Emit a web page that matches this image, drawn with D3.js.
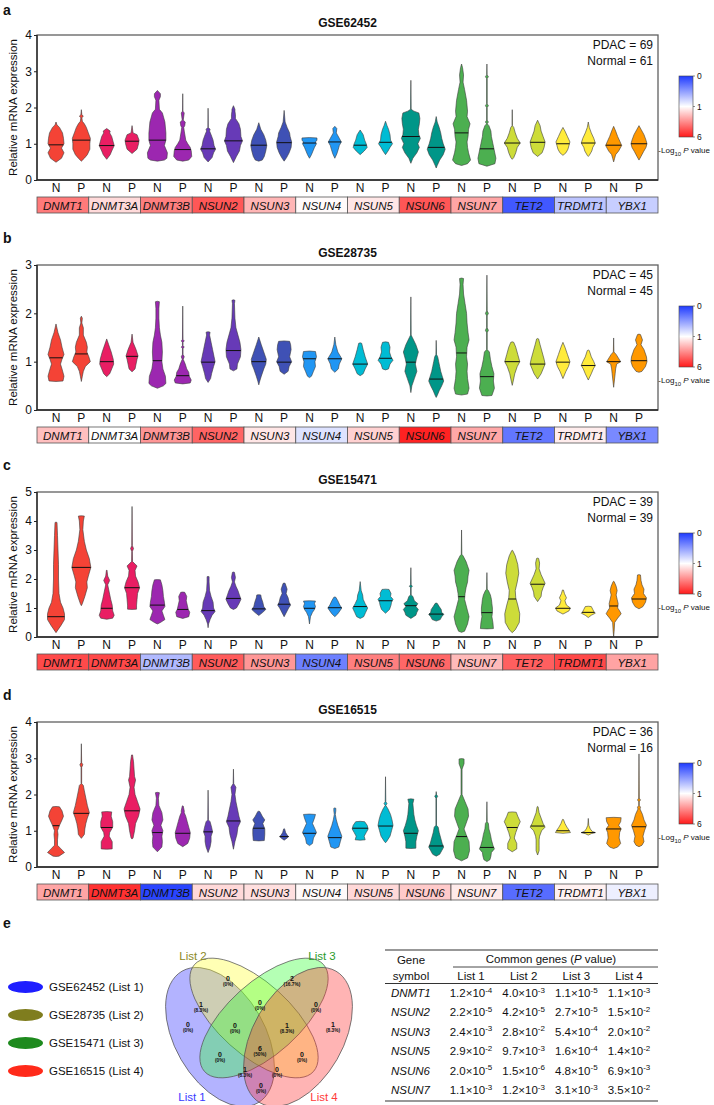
<!DOCTYPE html>
<html><head><meta charset="utf-8">
<script src="https://cdnjs.cloudflare.com/ajax/libs/d3/7.8.5/d3.min.js"></script>
<style>body{margin:0;background:#fff}svg{display:block}text{font-family:"Liberation Sans",Arial,Helvetica,sans-serif;fill:#111}</style>
</head><body><svg id="c" width="714" height="1105"></svg>
<script>
// ---------------- DATA ----------------
const genes = ["DNMT1","DNMT3A","DNMT3B","NSUN2","NSUN3","NSUN4","NSUN5","NSUN6","NSUN7","TET2","TRDMT1","YBX1"];
const groups = ["N","P"];
const geneColors = ["#f44336","#e91e63","#9c27b0","#673ab7","#3f51b5","#2196f3","#00bcd4","#009688","#4caf50","#cddc39","#ffeb3b","#ff9800"];
const datasets = ["GSE62452","GSE28735","GSE15471","GSE16515"];
const panelLetters = ["a","b","c","d"];
const pdacN = [69,45,39,36];
const normalN = [61,45,39,16];
const yMaxes = [4,3,5,4];
const colorTicks = [0,1,6];
// -log10 P per gene (box colours)
const logPa = [3.9,1.8,3.8,4.66,2.62,1.1,1.54,4.7,2.96,0.15,0.7,0.75];
const logPb = [2.4,1.0,3.3,4.38,1.55,0.85,2.01,5.82,2.92,0.3,1.4,0.4];
const logPc = [4.96,5.0,0.65,4.57,3.27,0.35,3.8,4.32,2.51,4.5,5.0,3.0];
const logPd = [2.96,5.5,0.05,1.82,1.7,1.1,1.85,2.16,1.46,0.25,1.3,0.92];
// medians (N,P per gene)
const medA = [0.97,1.1,0.95,1.07,1.1,0.84,0.86,1.08,0.96,1.03,1.02,1.05,0.96,1.04,1.2,0.9,1.3,0.86,1.02,1.04,1.0,1.02,0.96,1.0];
const medB = [1.08,1.16,1.0,1.11,1.02,0.71,0.99,1.23,1.0,0.99,1.06,1.06,0.95,1.07,0.99,0.64,1.18,0.69,1.0,0.95,0.99,0.92,1.0,1.02];
const medC = [0.7,2.4,0.99,1.7,1.1,0.95,0.91,1.33,0.97,1.13,0.99,1.01,1.05,1.25,1.08,0.79,1.39,0.84,1.31,1.82,0.99,0.85,1.07,1.31];
const medD = [1.14,1.48,1.09,1.55,0.95,0.93,0.97,1.27,1.07,0.84,0.93,0.81,1.07,1.13,0.93,0.58,0.84,0.54,1.09,1.13,1.0,0.95,1.05,1.11];
// density profiles: [value, relative density]
const shapesA = [
[[0.49,0],[0.6,0.55],[0.75,0.8],[0.88,0.55],[1.0,0.8],[1.15,0.75],[1.3,0.65],[1.45,0.35],[1.52,0.1],[1.6,0]],
[[0.52,0],[0.6,0.3],[0.7,0.6],[0.85,0.85],[1.0,0.85],[1.15,0.9],[1.3,0.7],[1.45,0.5],[1.55,0.3],[1.62,0.1],[1.72,0.05],[1.76,0.2],[1.8,0.05],[1.94,0]],
[[0.57,0],[0.7,0.35],[0.8,0.5],[0.95,0.75],[1.05,0.65],[1.2,0.5],[1.3,0.3],[1.35,0.35],[1.42,0]],
[[0.73,0],[0.85,0.5],[1.0,0.65],[1.1,0.7],[1.25,0.5],[1.3,0.1],[1.5,0]],
[[0.52,0],[0.55,0.7],[0.6,0.95],[0.75,1.0],[0.95,0.7],[1.1,0.85],[1.3,0.85],[1.6,0.75],[1.85,0.5],[1.95,0.2],[2.2,0.15],[2.3,0.3],[2.38,0.3],[2.47,0]],
[[0.52,0],[0.55,0.6],[0.65,0.9],[0.8,0.85],[0.9,0.75],[1.0,0.5],[1.1,0.3],[1.35,0.15],[1.45,0.1],[1.5,0.2],[1.6,0.25],[1.65,0.05],[1.85,0.15],[1.9,0.02],[2.38,0]],
[[0.5,0],[0.62,0.4],[0.75,0.55],[0.85,0.75],[0.95,0.6],[1.1,0.5],[1.25,0.3],[1.35,0.15],[1.4,0.2],[1.45,0.02],[1.98,0]],
[[0.48,0],[0.65,0.3],[0.8,0.6],[0.95,0.7],[1.08,0.9],[1.2,0.75],[1.4,0.7],[1.55,0.55],[1.7,0.2],[1.8,0.2],[1.9,0.15],[1.95,0.15],[2.05,0]],
[[0.52,0],[0.55,0.35],[0.65,0.55],[0.8,0.7],[0.95,0.8],[1.1,0.7],[1.25,0.5],[1.4,0.2],[1.58,0]],
[[0.52,0],[0.62,0.25],[0.75,0.5],[0.9,0.7],[1.05,0.75],[1.2,0.6],[1.3,0.55],[1.45,0.3],[1.6,0.1],[1.92,0]],
[[0.6,0],[0.7,0.2],[0.8,0.35],[0.9,0.5],[1.0,0.7],[1.05,0.6],[1.1,0.75],[1.16,0.75],[1.17,0]],
[[0.6,0],[0.72,0.2],[0.85,0.35],[0.95,0.45],[1.05,0.65],[1.15,0.45],[1.3,0.15],[1.42,0.2],[1.48,0]],
[[0.7,0],[0.8,0.4],[0.9,0.7],[1.0,0.6],[1.1,0.45],[1.25,0.3],[1.38,0]],
[[0.7,0],[0.8,0.25],[0.9,0.45],[1.0,0.7],[1.1,0.5],[1.25,0.45],[1.4,0.3],[1.5,0.15],[1.62,0]],
[[0.46,0],[0.6,0.2],[0.75,0.6],[0.9,0.85],[1.0,0.7],[1.15,0.95],[1.25,0.8],[1.4,0.75],[1.55,0.85],[1.7,0.9],[1.85,0.8],[1.9,0.3],[1.95,0.03],[2.75,0]],
[[0.33,0],[0.4,0.1],[0.55,0.35],[0.7,0.7],[0.85,0.9],[1.0,0.7],[1.15,0.55],[1.3,0.45],[1.45,0.3],[1.6,0.1],[1.75,0]],
[[0.4,0],[0.45,0.6],[0.55,0.9],[0.75,0.7],[0.9,0.6],[1.05,0.55],[1.2,0.65],[1.4,0.7],[1.55,0.85],[1.75,0.55],[1.9,0.6],[2.2,0.5],[2.5,0.3],[2.7,0.15],[2.9,0.2],[3.1,0.1],[3.2,0]],
[[0.38,0],[0.45,0.8],[0.6,0.9],[0.8,0.75],[1.0,0.6],[1.2,0.45],[1.35,0.4],[1.5,0.2],[1.55,0.03],[1.6,0.15],[1.65,0.03],[2.0,0.03],[2.05,0.15],[2.1,0.03],[2.8,0.03],[2.85,0.15],[2.9,0.02],[3.2,0]],
[[0.57,0],[0.62,0.15],[0.75,0.35],[0.9,0.5],[1.02,0.8],[1.15,0.5],[1.3,0.3],[1.45,0.15],[1.5,0.02],[1.94,0]],
[[0.65,0],[0.75,0.45],[0.9,0.65],[1.05,0.75],[1.2,0.55],[1.35,0.35],[1.5,0.25],[1.65,0]],
[[0.68,0],[0.75,0.3],[0.85,0.5],[0.95,0.6],[1.05,0.7],[1.2,0.45],[1.35,0.2],[1.45,0]],
[[0.65,0],[0.68,0.1],[0.8,0.35],[0.9,0.45],[1.02,0.7],[1.15,0.55],[1.3,0.3],[1.45,0.1],[1.6,0]],
[[0.5,0],[0.6,0.1],[0.7,0.2],[0.8,0.5],[0.95,0.8],[1.05,0.65],[1.2,0.4],[1.35,0.2],[1.48,0]],
[[0.55,0],[0.65,0.2],[0.78,0.45],[0.9,0.7],[1.0,0.8],[1.1,0.7],[1.25,0.5],[1.4,0.2],[1.5,0]]
];
const shapesB = [
[[0.59,0],[0.6,0.7],[0.7,0.8],[0.85,0.6],[0.95,0.45],[1.05,0.6],[1.15,0.8],[1.3,0.6],[1.45,0.45],[1.6,0.2],[1.78,0]],
[[0.59,0],[0.7,0.1],[0.8,0.2],[0.9,0.4],[1.0,0.9],[1.1,0.75],[1.2,0.55],[1.3,0.6],[1.4,0.5],[1.55,0.2],[1.7,0.2],[1.8,0.05],[1.9,0.1],[1.94,0]],
[[0.69,0],[0.75,0.3],[0.85,0.5],[0.95,0.7],[1.05,0.65],[1.2,0.45],[1.35,0.2],[1.47,0]],
[[0.79,0],[0.85,0.3],[0.95,0.4],[1.05,0.5],[1.12,0.6],[1.25,0.4],[1.4,0.1],[1.57,0]],
[[0.45,0],[0.5,0.6],[0.55,0.85],[0.7,0.8],[0.85,0.55],[1.0,0.45],[1.2,0.5],[1.4,0.45],[1.55,0.3],[1.7,0.2],[1.9,0.15],[2.1,0.15],[2.24,0.2],[2.25,0]],
[[0.54,0],[0.56,0.75],[0.62,0.85],[0.7,0.65],[0.78,0.6],[0.85,0.4],[0.95,0.25],[1.05,0.05],[1.1,0.15],[1.15,0.03],[1.28,0.03],[1.3,0.15],[1.33,0.03],[1.4,0.03],[1.43,0.15],[1.46,0.03],[2.15,0]],
[[0.57,0],[0.65,0.25],[0.75,0.35],[0.9,0.55],[1.0,0.7],[1.1,0.6],[1.25,0.45],[1.4,0.3],[1.55,0.15],[1.61,0.2],[1.62,0]],
[[0.81,0],[0.85,0.35],[0.95,0.4],[1.1,0.7],[1.25,0.75],[1.4,0.65],[1.55,0.45],[1.7,0.25],[1.9,0.15],[2.2,0.1],[2.27,0.15],[2.28,0]],
[[0.52,0],[0.6,0.1],[0.7,0.25],[0.85,0.5],[0.95,0.7],[1.05,0.75],[1.2,0.5],[1.35,0.25],[1.51,0]],
[[0.74,0],[0.8,0.4],[0.9,0.5],[1.0,0.75],[1.1,0.55],[1.25,0.7],[1.35,0.65],[1.42,0.55],[1.43,0]],
[[0.67,0],[0.7,0.2],[0.8,0.4],[0.9,0.6],[1.0,0.55],[1.1,0.7],[1.21,0.6],[1.22,0]],
[[0.78,0],[0.85,0.35],[0.95,0.45],[1.06,0.7],[1.2,0.3],[1.35,0.1],[1.51,0]],
[[0.71,0],[0.75,0.3],[0.85,0.5],[0.95,0.75],[1.1,0.5],[1.25,0.3],[1.38,0.15],[1.39,0]],
[[0.83,0],[0.85,0.3],[0.95,0.45],[1.03,0.75],[1.1,0.55],[1.2,0.4],[1.3,0.45],[1.4,0.3],[1.41,0]],
[[0.36,0],[0.5,0.1],[0.65,0.35],[0.8,0.6],[0.95,0.45],[1.05,0.55],[1.2,0.75],[1.35,0.5],[1.5,0.15],[1.55,0.03],[2.34,0]],
[[0.26,0],[0.3,0.1],[0.4,0.3],[0.5,0.55],[0.6,0.75],[0.7,0.6],[0.8,0.45],[0.9,0.35],[1.0,0.25],[1.1,0.15],[1.15,0.03],[1.44,0]],
[[0.31,0],[0.33,0.6],[0.45,0.75],[0.65,0.6],[0.8,0.55],[0.95,0.6],[1.1,0.5],[1.3,0.55],[1.45,0.75],[1.6,0.65],[1.8,0.55],[2.0,0.5],[2.2,0.35],[2.4,0.2],[2.6,0.15],[2.72,0.2],[2.73,0]],
[[0.29,0],[0.3,0.5],[0.45,0.75],[0.6,0.65],[0.75,0.7],[0.9,0.5],[1.05,0.35],[1.2,0.25],[1.25,0.03],[1.6,0.03],[1.65,0.15],[1.7,0.03],[1.95,0.03],[2.0,0.15],[2.05,0.03],[2.79,0]],
[[0.51,0],[0.6,0.1],[0.75,0.25],[0.9,0.5],[1.0,0.75],[1.15,0.55],[1.3,0.35],[1.4,0.15],[1.41,0]],
[[0.64,0],[0.75,0.35],[0.85,0.55],[0.95,0.75],[1.05,0.65],[1.2,0.45],[1.35,0.25],[1.47,0.1],[1.48,0]],
[[0.65,0],[0.8,0.3],[0.9,0.55],[1.0,0.7],[1.15,0.45],[1.3,0.2],[1.4,0]],
[[0.62,0],[0.75,0.3],[0.85,0.5],[0.92,0.7],[1.0,0.55],[1.1,0.3],[1.23,0.1],[1.24,0]],
[[0.47,0],[0.75,0.15],[0.85,0.2],[0.95,0.3],[1.0,0.7],[1.15,0.25],[1.2,0.03],[1.49,0]],
[[0.78,0],[0.8,0.3],[0.9,0.65],[1.0,0.8],[1.1,0.75],[1.25,0.5],[1.35,0.2],[1.45,0.35],[1.56,0.15],[1.57,0]]
];
const shapesC = [
[[0.15,0],[0.4,0.5],[0.6,0.85],[0.8,0.85],[1.0,0.7],[1.2,0.45],[1.5,0.3],[2.0,0.25],[2.5,0.25],[3.0,0.2],[3.5,0.15],[3.95,0.1],[3.96,0]],
[[1.08,0],[1.15,0.1],[1.4,0.35],[1.7,0.6],[1.9,0.55],[2.1,0.7],[2.4,0.95],[2.7,0.8],[3.0,0.5],[3.3,0.3],[3.7,0.15],[4.0,0.2],[4.17,0.3],[4.18,0]],
[[0.61,0],[0.65,0.6],[0.75,0.75],[0.9,0.6],[1.1,0.55],[1.3,0.4],[1.55,0.25],[1.8,0.1],[1.95,0.3],[2.1,0.1],[2.3,0.03],[2.31,0]],
[[0.95,0],[0.96,0.45],[1.1,0.45],[1.3,0.5],[1.5,0.55],[1.7,0.75],[1.9,0.6],[2.1,0.35],[2.3,0.3],[2.45,0.5],[2.6,0.05],[2.95,0.03],[3.05,0.15],[3.15,0.03],[4.5,0]],
[[0.45,0],[0.5,0.3],[0.6,0.75],[0.75,0.6],[0.9,0.45],[1.05,0.75],[1.2,0.7],[1.4,0.6],[1.6,0.55],[1.8,0.45],[1.97,0.3],[1.98,0]],
[[0.64,0],[0.7,0.6],[0.85,0.7],[0.95,0.55],[1.1,0.45],[1.25,0.35],[1.4,0.4],[1.54,0.2],[1.55,0]],
[[0.32,0],[0.45,0.05],[0.6,0.2],[0.75,0.4],[0.88,0.7],[1.0,0.55],[1.2,0.5],[1.4,0.3],[1.6,0.15],[1.9,0.1],[2.08,0.1],[2.09,0]],
[[0.95,0],[1.0,0.3],[1.15,0.55],[1.3,0.75],[1.45,0.6],[1.6,0.45],[1.75,0.25],[1.9,0.1],[2.05,0.2],[2.23,0.1],[2.24,0]],
[[0.74,0],[0.85,0.4],[0.95,0.7],[1.05,0.5],[1.2,0.4],[1.35,0.25],[1.45,0.2],[1.46,0]],
[[0.7,0],[0.9,0.3],[1.0,0.45],[1.1,0.65],[1.2,0.5],[1.35,0.4],[1.5,0.2],[1.65,0.3],[1.85,0.1],[1.86,0]],
[[0.45,0],[0.7,0.1],[0.85,0.3],[0.95,0.5],[1.05,0.6],[1.15,0.5],[1.24,0.6],[1.25,0]],
[[0.7,0],[0.8,0.3],[0.9,0.5],[1.0,0.7],[1.1,0.5],[1.25,0.3],[1.37,0.1],[1.38,0]],
[[0.64,0],[0.7,0.35],[0.85,0.55],[1.0,0.75],[1.15,0.5],[1.3,0.3],[1.45,0.25],[1.6,0.1],[1.91,0]],
[[0.82,0],[0.95,0.4],[1.1,0.55],[1.2,0.6],[1.3,0.75],[1.4,0.5],[1.5,0.55],[1.64,0.35],[1.65,0]],
[[0.64,0],[0.75,0.5],[0.85,0.6],[0.95,0.75],[1.05,0.5],[1.15,0.7],[1.25,0.35],[1.4,0.2],[1.45,0.03],[1.7,0.03],[1.75,0.15],[1.8,0.03],[2.39,0]],
[[0.55,0],[0.6,0.4],[0.7,0.55],[0.78,0.75],[0.85,0.55],[0.95,0.5],[1.05,0.3],[1.16,0.1],[1.17,0]],
[[0.16,0],[0.2,0.3],[0.45,0.6],[0.7,0.75],[0.9,0.6],[1.1,0.45],[1.3,0.3],[1.5,0.35],[1.7,0.45],[1.9,0.6],[2.1,0.65],[2.3,0.75],[2.6,0.45],[2.8,0.15],[2.85,0.03],[3.69,0]],
[[0.28,0],[0.29,0.65],[0.5,0.6],[0.7,0.5],[0.85,0.55],[1.0,0.55],[1.15,0.5],[1.3,0.45],[1.45,0.35],[1.6,0.15],[1.65,0.03],[2.22,0]],
[[0.15,0],[0.25,0.3],[0.5,0.7],[0.8,0.75],[1.1,0.55],[1.35,0.35],[1.6,0.3],[1.9,0.5],[2.2,0.65],[2.5,0.55],[2.8,0.3],[2.98,0.05],[2.99,0]],
[[1.22,0],[1.4,0.35],[1.55,0.4],[1.7,0.55],[1.85,0.75],[2.0,0.55],[2.15,0.35],[2.35,0.15],[2.55,0.2],[2.71,0.1],[2.72,0]],
[[0.79,0],[0.9,0.6],[1.0,0.75],[1.1,0.35],[1.25,0.2],[1.35,0.35],[1.5,0.15],[1.62,0.05],[1.63,0]],
[[0.67,0],[0.75,0.3],[0.82,0.7],[0.88,0.55],[0.95,0.45],[1.05,0.3],[1.06,0]],
[[0.01,0],[0.2,0.05],[0.5,0.1],[0.65,0.4],[0.8,0.75],[0.9,0.6],[1.0,0.4],[1.15,0.45],[1.3,0.35],[1.45,0.25],[1.6,0.35],[1.75,0.25],[1.91,0.05],[1.92,0]],
[[0.97,0],[1.05,0.4],[1.2,0.65],[1.35,0.75],[1.5,0.45],[1.65,0.5],[1.8,0.3],[1.95,0.2],[2.14,0.15],[2.15,0]]
];
const shapesD = [
[[0.29,0],[0.3,0.3],[0.4,0.85],[0.5,0.5],[0.6,0.15],[0.75,0.15],[0.9,0.2],[1.0,0.15],[1.15,0.35],[1.3,0.6],[1.4,0.75],[1.55,0.6],[1.66,0.35],[1.67,0]],
[[0.79,0],[0.9,0.3],[1.05,0.35],[1.2,0.45],[1.35,0.6],[1.5,0.8],[1.7,0.6],[1.9,0.45],[2.1,0.3],[2.25,0.2],[2.3,0.03],[2.75,0.03],[2.82,0.15],[2.88,0.03],[3.4,0]],
[[0.49,0],[0.5,0.55],[0.55,0.55],[0.7,0.55],[0.85,0.25],[0.95,0.3],[1.1,0.6],[1.25,0.6],[1.4,0.45],[1.52,0.5],[1.53,0]],
[[0.77,0],[0.8,0.1],[1.0,0.25],[1.2,0.35],[1.4,0.65],[1.6,0.8],[1.8,0.55],[2.0,0.3],[2.2,0.2],[2.4,0.35],[2.5,0.25],[2.7,0.2],[2.9,0.15],[3.09,0.05],[3.1,0]],
[[0.42,0],[0.55,0.45],[0.7,0.5],[0.85,0.45],[1.0,0.55],[1.15,0.35],[1.3,0.55],[1.5,0.45],[1.7,0.15],[1.9,0.1],[2.05,0.2],[2.06,0]],
[[0.56,0],[0.65,0.5],[0.8,0.7],[0.95,0.75],[1.1,0.6],[1.25,0.45],[1.4,0.3],[1.5,0.15],[1.55,0.15],[1.68,0.05],[1.69,0]],
[[0.4,0],[0.55,0.2],[0.7,0.3],[0.85,0.3],[0.97,0.45],[1.1,0.35],[1.25,0.2],[1.3,0.03],[2.12,0]],
[[0.49,0],[0.7,0.15],[0.9,0.35],[1.1,0.45],[1.25,0.7],[1.4,0.55],[1.6,0.4],[1.8,0.25],[2.0,0.15],[2.2,0.25],[2.3,0.03],[2.7,0]],
[[0.72,0],[0.73,0.55],[0.9,0.6],[1.05,0.6],[1.2,0.4],[1.3,0.6],[1.4,0.35],[1.53,0.1],[1.54,0]],
[[0.74,0],[0.8,0.3],[0.84,0.45],[0.88,0.3],[0.95,0.15],[1.05,0.05],[1.06,0]],
[[0.59,0],[0.65,0.3],[0.8,0.4],[0.95,0.7],[1.05,0.55],[1.2,0.3],[1.35,0.5],[1.45,0.6],[1.46,0]],
[[0.51,0],[0.55,0.4],[0.7,0.55],[0.85,0.7],[1.0,0.5],[1.15,0.3],[1.3,0.15],[1.45,0.05],[1.55,0.1],[1.62,0.1],[1.63,0]],
[[0.74,0],[0.75,0.5],[0.85,0.4],[0.95,0.6],[1.05,0.8],[1.15,0.7],[1.25,0.45],[1.26,0]],
[[0.67,0],[0.7,0.1],[0.85,0.45],[1.0,0.6],[1.15,0.75],[1.3,0.65],[1.45,0.5],[1.6,0.25],[1.7,0.03],[1.75,0.15],[1.8,0.03],[2.49,0]],
[[0.51,0],[0.52,0.5],[0.7,0.5],[0.85,0.6],[1.0,0.75],[1.15,0.55],[1.3,0.4],[1.45,0.3],[1.6,0.25],[1.75,0.2],[1.87,0.3],[1.88,0]],
[[0.3,0],[0.35,0.35],[0.45,0.55],[0.55,0.75],[0.65,0.6],[0.8,0.45],[0.95,0.3],[1.1,0.2],[1.15,0.03],[1.9,0.03],[1.95,0.15],[2.0,0.03],[2.08,0]],
[[0.17,0],[0.25,0.6],[0.45,0.8],[0.7,0.75],[0.9,0.45],[1.05,0.25],[1.2,0.45],[1.4,0.7],[1.6,0.65],[1.8,0.35],[2.0,0.05],[2.7,0.05],[2.85,0.25],[2.98,0.25],[2.99,0]],
[[0.15,0],[0.2,0.3],[0.3,0.4],[0.4,0.45],[0.5,0.75],[0.6,0.6],[0.75,0.45],[0.9,0.35],[1.05,0.2],[1.2,0.15],[1.25,0.03],[1.8,0]],
[[0.42,0],[0.5,0.45],[0.65,0.45],[0.8,0.2],[0.95,0.35],[1.1,0.55],[1.25,0.8],[1.4,0.55],[1.51,0.4],[1.52,0]],
[[0.33,0],[0.45,0.15],[0.6,0.15],[0.75,0.15],[0.85,0.2],[1.0,0.4],[1.1,0.75],[1.2,0.55],[1.35,0.35],[1.5,0.15],[1.66,0.05],[1.67,0]],
[[0.93,0],[0.95,0.75],[1.02,0.6],[1.1,0.4],[1.2,0.2],[1.31,0.05],[1.32,0]],
[[0.88,0],[0.92,0.3],[0.95,0.7],[0.98,0.4],[1.05,0.2],[1.15,0.05],[1.34,0]],
[[0.51,0],[0.55,0.4],[0.65,0.7],[0.8,0.55],[0.95,0.6],[1.05,0.75],[1.15,0.5],[1.25,0.7],[1.36,0.75],[1.37,0]],
[[0.56,0],[0.6,0.3],[0.7,0.5],[0.85,0.4],[1.0,0.55],[1.15,0.75],[1.3,0.5],[1.45,0.35],[1.6,0.1],[1.65,0.15],[1.7,0.03],[1.8,0.03],[1.85,0.15],[1.9,0.03],[3.12,0]]
];
// Venn (panel e)
const vennLists = ["List 1","List 2","List 3","List 4"];
const vennDatasets = ["GSE62452","GSE28735","GSE15471","GSE16515"];
const vennFill = ["#2b2bff","#ffff30","#30ff30","#ff3030"];
const vennTextColor = ["#3a3aff","#8c8a1e","#2a9a2a","#ff3a3a"];
const legendColor = ["#1e1eff","#7f7d1e","#1e8a1e","#ff2a1a"];
const vennRegions = ["2","3","12","23","34","1","123","234","4","13","1234","24","134","124","14"];
const vennCounts = [0,2,1,0,0,0,0,1,1,0,6,0,1,0,0];
// table
const tableGenes = ["DNMT1","NSUN2","NSUN3","NSUN5","NSUN6","NSUN7"];
const pList1 = ["1.2e-4","2.2e-5","2.4e-3","2.9e-2","2.0e-5","1.1e-3"];
const pList2 = ["4.0e-3","4.2e-5","2.8e-2","9.7e-3","1.5e-6","1.2e-3"];
const pList3 = ["1.1e-5","2.7e-5","5.4e-4","1.6e-4","4.8e-5","3.1e-3"];
const pList4 = ["1.1e-3","1.5e-2","2.0e-2","1.4e-2","6.9e-3","3.5e-2"];

// ---------------- DRAW ----------------
const svg = d3.select("#c");
const font = '"Liberation Sans",Arial,sans-serif';
const L = 37, R = 658, PH = 145;
const panelTops = [35,265,492,722];
const logPs = [logPa,logPb,logPc,logPd];
const meds = [medA,medB,medC,medD];
const shapes = [shapesA,shapesB,shapesC,shapesD];
const keys = genes.flatMap(g => groups.map(s => g + "|" + s));
const x = d3.scalePoint().domain(keys).range([L,R]).padding(0.75);
const xb = d3.scaleBand().domain(genes).range([L,R]);
const w = d3.scaleLinear().domain([0,1]).range([0,10]);
const boxColor = d3.scaleLinear().domain(colorTicks).range(["#1f3bff","#ffffff","#ff1a1a"]);
const geneCol = d3.scaleOrdinal().domain(genes).range(geneColors);

// gradient
const defs = svg.append("defs");
const gr = defs.append("linearGradient").attr("id","lg").attr("x1",0).attr("y1",0).attr("x2",0).attr("y2",1);
[0,0.5,1].forEach((o,i) => gr.append("stop").attr("offset",o).attr("stop-color",boxColor(colorTicks[i])));

function widthAt(k, v){
  for (let i=0;i<k.length-1;i++){
    if (v>=k[i][0] && v<=k[i+1][0]){
      const t=(v-k[i][0])/(k[i+1][0]-k[i][0]||1);
      return k[i][1]+t*(k[i+1][1]-k[i][1]);
    }
  }
  return 0;
}

datasets.forEach((ds, pi) => {
  const top = panelTops[pi], bot = top + PH;
  const y = d3.scaleLinear().domain([0,yMaxes[pi]]).range([bot,top]);
  const g = svg.append("g");
  g.append("text").attr("x",3).attr("y",Math.max(top-22,15)).attr("font-size",14).attr("font-weight","bold").text(panelLetters[pi]);
  g.append("text").attr("x",(L+R)/2).attr("y",top-8).attr("text-anchor","middle").attr("font-size",12).attr("font-weight","bold").text(ds);
  // violins
  keys.forEach((key,i) => {
    const cx = x(key);
    const k = shapes[pi][i];
    const col = geneCol(key.split("|")[0]);
    const area = d3.area().curve(d3.curveLinear).y(d=>y(d[0])).x0(d=>cx-w(d[1])).x1(d=>cx+w(d[1]));
    g.append("path").attr("d",area(k)).attr("fill",col).attr("stroke","#3a3a3a").attr("stroke-width",0.6).attr("stroke-linejoin","round");
    const m = meds[pi][i], hw = w(widthAt(k,m));
    g.append("line").attr("x1",cx-hw).attr("x2",cx+hw).attr("y1",y(m)).attr("y2",y(m)).attr("stroke","#111").attr("stroke-width",1);
  });
  // frame
  g.append("rect").attr("x",L).attr("y",top).attr("width",R-L).attr("height",PH).attr("fill","none").attr("stroke","#606060").attr("stroke-width",1.3);
  g.append("line").attr("x1",L).attr("x2",R).attr("y1",bot).attr("y2",bot).attr("stroke","#222").attr("stroke-width",1.3);
  g.append("line").attr("x1",L).attr("x2",L).attr("y1",top).attr("y2",bot).attr("stroke","#222").attr("stroke-width",1.3);
  const ax = g.append("g").attr("transform",`translate(${L},0)`).call(d3.axisLeft(y).ticks(yMaxes[pi]).tickSize(3).tickPadding(2).tickFormat(d3.format("d")));
  ax.select(".domain").remove();
  ax.selectAll("text").attr("font-size",12).attr("font-family",font).attr("fill","#111");
  ax.selectAll("line").attr("stroke","#222");
  g.append("text").attr("transform",`translate(17,${(top+bot)/2}) rotate(-90)`).attr("text-anchor","middle").attr("font-size",11.5).text("Relative mRNA expression");
  // N/P labels
  keys.forEach(key => g.append("text").attr("x",x(key)).attr("y",bot+12).attr("text-anchor","middle").attr("font-size",12).text(key.split("|")[1]));
  // gene boxes
  genes.forEach((gn,i) => {
    g.append("rect").attr("x",xb(gn)).attr("y",bot+17).attr("width",xb.bandwidth()).attr("height",16)
      .attr("fill",boxColor(logPs[pi][i])).attr("stroke","#555").attr("stroke-width",0.8);
    g.append("text").attr("x",xb(gn)+xb.bandwidth()/2).attr("y",bot+29.5).attr("text-anchor","middle").attr("font-size",11.5).attr("font-style","italic").text(gn);
  });
  // sample sizes
  g.append("text").attr("x",R-5).attr("y",top+14).attr("text-anchor","end").attr("font-size",12).text(`PDAC = ${pdacN[pi]}`);
  g.append("text").attr("x",R-5).attr("y",top+30).attr("text-anchor","end").attr("font-size",12).text(`Normal = ${normalN[pi]}`);
  // colour legend
  const ly = d3.scaleLinear().domain([0,0.5,1]).range([top+41,top+71.5,top+102]);
  g.append("rect").attr("x",679).attr("y",ly(0)).attr("width",14).attr("height",ly(1)-ly(0)).attr("fill","url(#lg)").attr("stroke","#444").attr("stroke-width",0.6);
  colorTicks.forEach((t,i) => {
    g.append("line").attr("x1",693).attr("x2",695).attr("y1",ly(i/2)).attr("y2",ly(i/2)).attr("stroke","#444").attr("stroke-width",0.6);
    g.append("text").attr("x",697).attr("y",ly(i/2)+3).attr("font-size",8.5).text(t);
  });
  const lt = g.append("text").attr("x",710).attr("y",top+118).attr("font-size",8).attr("text-anchor","end");
  lt.append("tspan").text("-Log");
  lt.append("tspan").attr("font-size",6).attr("dy",2.5).text("10");
  lt.append("tspan").attr("dy",-2.5).text(" ");
  lt.append("tspan").attr("font-style","italic").text("P");
  lt.append("tspan").text(" value");
});

// ---------------- PANEL e ----------------
const e = svg.append("g");
e.append("text").attr("x",3).attr("y",928).attr("font-size",14).attr("font-weight","bold").text("e");
const legY = d3.scalePoint().domain(vennLists).range([987,1071]);
vennLists.forEach((l,i) => {
  e.append("ellipse").attr("cx",25.5).attr("cy",legY(l)).attr("rx",17.5).attr("ry",6).attr("fill",legendColor[i]);
  e.append("text").attr("x",49).attr("y",legY(l)+4).attr("font-size",11.5).attr("fill","#222").text(`${vennDatasets[i]} (${l})`);
});
// Venn geometry
const vx = d3.scaleLinear().domain([-1,1]).range([159,359]);
const vy = d3.scaleLinear().domain([-1,1]).range([930,1130]);
const vr = d3.scaleLinear().domain([0,1]).range([0,100]);
const ellGeom = [
  {cx:-0.39, cy:0.07, a:0.76, b:0.45, rot:60},
  {cx:-0.05, cy:-0.12, a:0.80, b:0.36, rot:42},
  {cx:0.05, cy:-0.12, a:0.80, b:0.36, rot:138},
  {cx:0.39, cy:0.07, a:0.76, b:0.45, rot:120}
];
ellGeom.forEach((el,i) => {
  e.append("ellipse").attr("cx",vx(el.cx)).attr("cy",vy(el.cy)).attr("rx",vr(el.a)).attr("ry",vr(el.b))
    .attr("transform",`rotate(${el.rot},${vx(el.cx)},${vy(el.cy)})`)
    .attr("fill",vennFill[i]).attr("fill-opacity",0.36).attr("stroke","#555").attr("stroke-width",0.7);
});
const setLabelPos = [[-0.67,0.67],[-0.66,-0.74],[0.63,-0.74],[0.65,0.67]];
vennLists.forEach((l,i) => {
  e.append("text").attr("x",vx(setLabelPos[i][0])).attr("y",vy(setLabelPos[i][1])+4).attr("text-anchor","middle")
    .attr("font-size",11.5).style("fill",vennTextColor[i]).text(l);
});
const regionPos = {"2":[-0.31,-0.49],"3":[0.33,-0.49],"12":[-0.58,-0.23],"23":[0.01,-0.25],"34":[0.57,-0.23],
  "1":[-0.71,-0.03],"123":[-0.24,-0.02],"234":[0.28,-0.02],"4":[0.74,-0.03],"13":[-0.39,0.27],"1234":[0.01,0.21],
  "24":[0.43,0.27],"134":[-0.14,0.42],"124":[0.18,0.42],"14":[0.02,0.58]};
const total = d3.sum(vennCounts);
const fmtPct = v => { const p = v/total*100; return (Math.abs(p-Math.round(p))<1e-9 ? d3.format("d")(p) : d3.format(".1f")(p)) + "%"; };
vennRegions.forEach((r,i) => {
  const [px,py] = regionPos[r];
  e.append("text").attr("x",vx(px)).attr("y",vy(py)-0.5).attr("text-anchor","middle").attr("font-size",7).attr("font-weight","bold").text(vennCounts[i]);
  e.append("text").attr("x",vx(px)).attr("y",vy(py)+5).attr("text-anchor","middle").attr("font-size",4.8).attr("font-weight","bold").text(`(${fmtPct(vennCounts[i])})`);
});

// table
const T = svg.append("g");
const tL = 385, tR = 658;
const colX = d3.scalePoint().domain(vennLists).range([471,629]);
T.append("line").attr("x1",tL).attr("x2",tR).attr("y1",950).attr("y2",950).attr("stroke","#333").attr("stroke-width",1.2);
const ch = T.append("text").attr("x",551).attr("y",963).attr("text-anchor","middle").attr("font-size",11.5);
ch.append("tspan").text("Common genes (");
ch.append("tspan").attr("font-style","italic").text("P");
ch.append("tspan").text(" value)");
T.append("line").attr("x1",453).attr("x2",tR).attr("y1",967).attr("y2",967).attr("stroke","#333").attr("stroke-width",0.9);
T.append("text").attr("x",411).attr("y",964).attr("text-anchor","middle").attr("font-size",11.5).text("Gene");
T.append("text").attr("x",411).attr("y",980).attr("text-anchor","middle").attr("font-size",11.5).text("symbol");
vennLists.forEach(l => T.append("text").attr("x",colX(l)).attr("y",980).attr("text-anchor","middle").attr("font-size",11.5).text(l));
T.append("line").attr("x1",tL).attr("x2",tR).attr("y1",983.5).attr("y2",983.5).attr("stroke","#333").attr("stroke-width",1);
const rowY = d3.scalePoint().domain(tableGenes).range([997,1094]);
const pCols = [pList1,pList2,pList3,pList4];
tableGenes.forEach((gn,r) => {
  T.append("text").attr("x",391).attr("y",rowY(gn)).attr("font-size",11.5).attr("font-style","italic").text(gn);
  pCols.forEach((col,c) => {
    const [m,ex] = col[r].split("e");
    const t = T.append("text").attr("x",colX(vennLists[c])).attr("y",rowY(gn)).attr("text-anchor","middle").attr("font-size",11.5);
    t.append("tspan").text(`${m}×10`);
    t.append("tspan").attr("dy",-4.5).attr("font-size",8).text(ex);
  });
});
T.append("line").attr("x1",tL).attr("x2",tR).attr("y1",1101).attr("y2",1101).attr("stroke","#333").attr("stroke-width",1.2);
</script></body></html>
